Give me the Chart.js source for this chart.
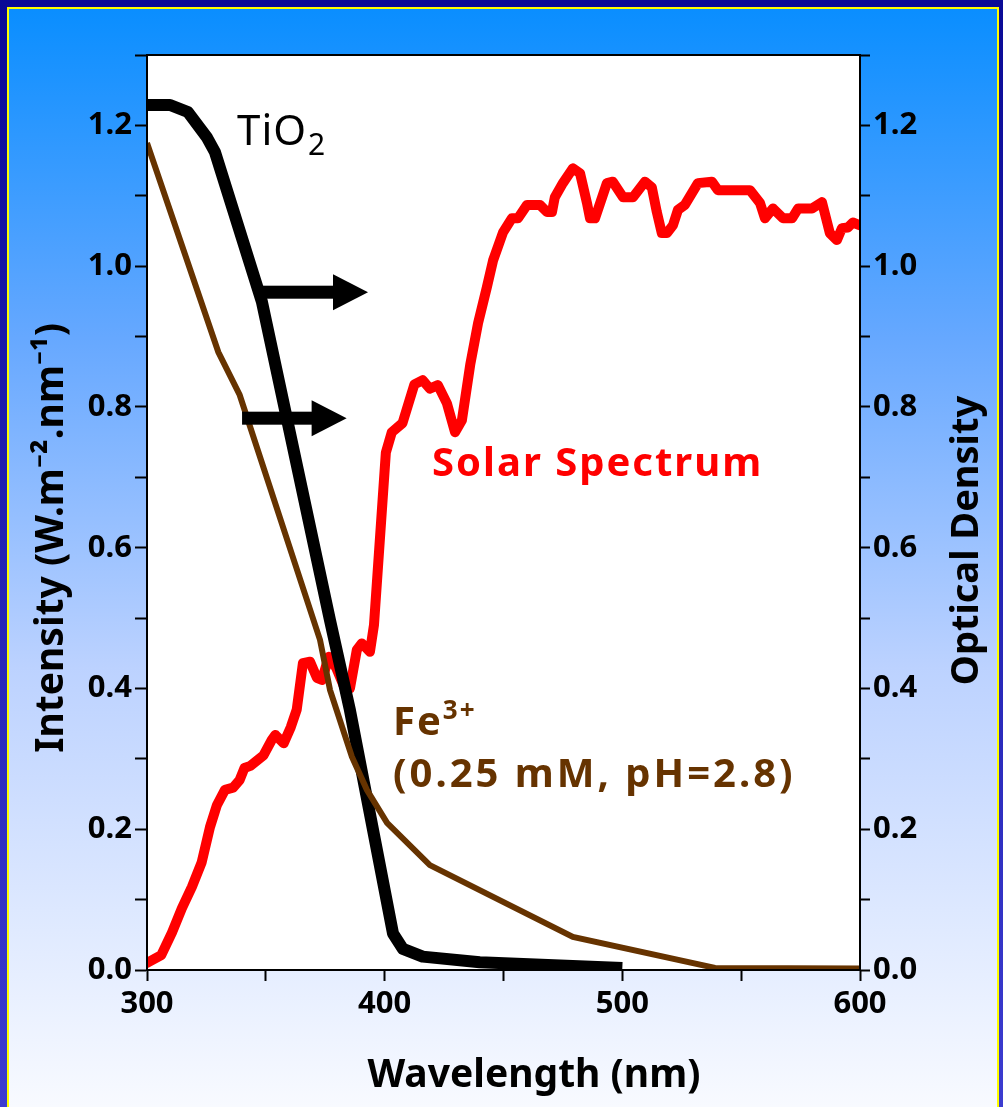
<!DOCTYPE html>
<html>
<head>
<meta charset="utf-8">
<script src="https://cdn.jsdelivr.net/npm/chart.js@4.4.1/dist/chart.umd.min.js"></script>
<style>
	html, body { margin: 0; padding: 0; background: #0c0c9c; }
	#wrap { width: 1003px; height: 1107px; }
</style>
</head>
<body>
<div id="wrap"><canvas id="chart_solar"></canvas></div>
<script>
'use strict';

// solar spectrum (left axis)
const solarNm = [300, 306, 310.5, 314.7, 318.9, 323, 326.5, 329.4, 332.8, 336.2, 339, 341, 343.5, 349, 352.5, 354, 357.5, 360.5, 363, 365.6, 368.6, 371.5, 373.6, 376.5, 379.5, 383.5, 385.4, 388.3, 390.4, 393.8, 395.5, 400.5, 403, 407.5, 412.5, 416, 419, 422.4, 426.2, 429.6, 432.5, 436, 439.3, 443, 445.6, 449.8, 453.5, 456.1, 459.9, 465.3, 468.3, 470.4, 471.6, 475, 479.2, 482.2, 485.1, 486.4, 488.5, 493.5, 496, 500.3, 504.5, 509.5, 512.4, 514.5, 516.6, 518.8, 521.3, 523.4, 526.3, 531.8, 537.7, 540.2, 553.7, 557.9, 560, 563.4, 567.6, 571.4, 574, 579.8, 584, 587.3, 590.3, 592.4, 594.9, 597, 600];
const solarIntensity = [0.01, 0.021, 0.053, 0.088, 0.118, 0.153, 0.203, 0.234, 0.256, 0.259, 0.27, 0.287, 0.29, 0.305, 0.327, 0.334, 0.322, 0.345, 0.37, 0.436, 0.438, 0.415, 0.412, 0.445, 0.43, 0.398, 0.40, 0.455, 0.464, 0.452, 0.49, 0.735, 0.764, 0.777, 0.832, 0.838, 0.826, 0.831, 0.805, 0.764, 0.781, 0.86, 0.919, 0.97, 1.008, 1.048, 1.068, 1.068, 1.087, 1.087, 1.077, 1.077, 1.098, 1.118, 1.139, 1.132, 1.09, 1.068, 1.068, 1.118, 1.12, 1.098, 1.098, 1.12, 1.112, 1.077, 1.047, 1.047, 1.058, 1.08, 1.087, 1.118, 1.12, 1.108, 1.108, 1.09, 1.068, 1.082, 1.068, 1.068, 1.082, 1.082, 1.091, 1.047, 1.037, 1.054, 1.055, 1.062, 1.058];

// TiO2 optical density (right axis)
const tio2Nm = [300, 309.7, 317.2, 325.2, 328.6, 348.3, 377, 385.4, 403.5, 407.7, 416, 440, 500];
const tio2OD = [1.229, 1.229, 1.219, 1.183, 1.162, 0.95, 0.497, 0.369, 0.052, 0.03, 0.019, 0.011, 0.003];

// Fe3+ optical density (right axis)
const feNm = [300, 330, 339, 372.8, 377, 386.2, 392.5, 401, 419, 479.2, 539, 600];
const feOD = [1.175, 0.878, 0.817, 0.469, 0.398, 0.303, 0.256, 0.209, 0.149, 0.047, 0.003, 0.002];

const xTickLabels = [300, 400, 500, 600];
const yTickLabels = [0, 0.2, 0.4, 0.6, 0.8, 1.0, 1.2];

const FONT = '"Noto Sans", "DejaVu Sans", sans-serif';
const BROWN = '#663300';

function toPoints(xs, ys) {
	return xs.map((x, i) => ({x: x, y: ys[i]}));
}

function yLabel(v) {
	let r = Math.round(v * 10) / 10;
	return yTickLabels.some(t => Math.abs(t - r) < 1e-6) ? r.toFixed(1) : '';
}

const bgPlugin = {
	id: 'bg',
	beforeDraw(chart) {
		let ctx = chart.ctx, w = chart.width, h = chart.height;
		ctx.save();
		let outer = ctx.createLinearGradient(0, 0, 0, h);
		outer.addColorStop(0, '#0a0a96');
		outer.addColorStop(1, '#3c3cd0');
		ctx.fillStyle = outer;
		ctx.fillRect(0, 0, w, h);
		ctx.fillStyle = '#ffff00';
		ctx.fillRect(7, 7, w - 11, h);
		let inner = ctx.createLinearGradient(0, 9, 0, h);
		inner.addColorStop(0, '#0a8eff');
		inner.addColorStop(0.3, '#66a8ff');
		inner.addColorStop(0.6, '#bcd2ff');
		inner.addColorStop(1, '#f8faff');
		ctx.fillStyle = inner;
		ctx.fillRect(9, 9, w - 15, h);
		let a = chart.chartArea;
		ctx.fillStyle = '#ffffff';
		ctx.fillRect(a.left, a.top, a.right - a.left, a.bottom - a.top);
		ctx.restore();
	},
	afterDraw(chart) {
		// right axis title reads bottom to top, like the left one
		let ctx = chart.ctx, a = chart.chartArea;
		ctx.save();
		ctx.translate(chart.width - 36, (a.top + a.bottom) / 2 + 28);
		ctx.rotate(-Math.PI / 2);
		ctx.fillStyle = '#000';
		ctx.font = 'bold 38px ' + FONT;
		ctx.textAlign = 'center';
		ctx.textBaseline = 'middle';
		ctx.fillText('Optical Density', 0, 0);
		ctx.restore();
	},
	afterDatasetsDraw(chart) {
		let ctx = chart.ctx, a = chart.chartArea;
		let xs = chart.scales.x, ys = chart.scales.y1;
		ctx.save();
		ctx.strokeStyle = '#000';
		ctx.lineWidth = 2;
		ctx.strokeRect(a.left, a.top, a.right - a.left, a.bottom - a.top);

		// arrows pointing to the optical density axis
		drawArrow(ctx, xs.getPixelForValue(348.4), xs.getPixelForValue(393), ys.getPixelForValue(0.963));
		drawArrow(ctx, xs.getPixelForValue(340), xs.getPixelForValue(384), ys.getPixelForValue(0.784));

		ctx.textBaseline = 'alphabetic';
		ctx.textAlign = 'left';

		// TiO2
		let tx = xs.getPixelForValue(337.9), ty = ys.getPixelForValue(1.172);
		ctx.fillStyle = '#000';
		ctx.font = '42px ' + FONT;
		ctx.letterSpacing = '1px';
		ctx.fillText('TiO', tx, ty);
		let tw = ctx.measureText('TiO').width;
		ctx.font = '30px ' + FONT;
		ctx.fillText('2', tx + tw + 1, ty + 10);

		// Solar Spectrum
		ctx.fillStyle = '#ff0000';
		ctx.font = 'bold 40px ' + FONT;
		ctx.letterSpacing = '2px';
		ctx.fillText('Solar Spectrum', xs.getPixelForValue(419.9), ys.getPixelForValue(0.702));

		// Fe3+
		let fx = xs.getPixelForValue(403.5), fy = ys.getPixelForValue(0.334);
		ctx.fillStyle = BROWN;
		ctx.font = 'bold 40px ' + FONT;
		ctx.fillText('Fe', fx, fy);
		let fw = ctx.measureText('Fe').width;
		ctx.font = 'bold 26px ' + FONT;
		ctx.fillText('3+', fx + fw, fy - 16);
		ctx.font = 'bold 40px ' + FONT;
		ctx.letterSpacing = '3px';
		ctx.fillText('(0.25 mM, pH=2.8)', fx, ys.getPixelForValue(0.26));
		ctx.restore();
	},
};

function drawArrow(ctx, x0, x1, y) {
	let head = 35, half = 18;
	ctx.fillStyle = '#000';
	ctx.fillRect(x0, y - 6.5, x1 - x0 - head + 1, 13);
	ctx.beginPath();
	ctx.moveTo(x1 - head, y - half);
	ctx.lineTo(x1, y);
	ctx.lineTo(x1 - head, y + half);
	ctx.closePath();
	ctx.fill();
}

const tickFont = {family: FONT, size: 31, weight: 'bold'};

const config = {
	type: 'line',
	data: {
		datasets: [{
			label: 'Fe3+',
			data: toPoints(feNm, feOD),
			yAxisID: 'y1',
			borderColor: BROWN,
			borderWidth: 6,
			pointRadius: 0,
			order: 0,
		}, {
			label: 'TiO2',
			data: toPoints(tio2Nm, tio2OD),
			yAxisID: 'y1',
			borderColor: '#000000',
			borderWidth: 12,
			borderJoinStyle: 'round',
			pointRadius: 0,
			order: 1,
		}, {
			label: 'Solar Spectrum',
			data: toPoints(solarNm, solarIntensity),
			yAxisID: 'y',
			borderColor: '#ff0000',
			borderWidth: 10,
			borderJoinStyle: 'round',
			borderCapStyle: 'round',
			pointRadius: 0,
			order: 2,
		}],
	},
	options: {
		responsive: true,
		maintainAspectRatio: false,
		animation: false,
		devicePixelRatio: 1,
		layout: {padding: {top: 55, left: 0, right: 0, bottom: 0}},
		plugins: {
			legend: {display: false},
			tooltip: {enabled: false},
		},
		scales: {
			x: {
				type: 'linear',
				min: 300,
				max: 600,
				afterBuildTicks: s => { s.ticks = [300, 350, 400, 450, 500, 550, 600].map(v => ({value: v})); },
				afterFit: s => { s.height = 137; },
				ticks: {
					color: '#000',
					font: tickFont,
					padding: 5,
					maxRotation: 0,
					callback: v => xTickLabels.includes(v) ? String(v) : '',
				},
				grid: {drawOnChartArea: false, drawTicks: true, tickLength: 11, tickWidth: 2, tickColor: '#000'},
				border: {display: true, color: '#000', width: 2},
				title: {display: true, text: '      Wavelength (nm)', color: '#000', font: {family: FONT, size: 39, weight: 'bold'}, padding: {top: 0, bottom: 8}},
			},
			y: {
				position: 'left',
				min: 0,
				max: 1.3,
				afterBuildTicks: s => { s.ticks = Array.from({length: 14}, (d, i) => ({value: i / 10})); },
				afterFit: s => { s.width = 147; },
				ticks: {color: '#000', font: tickFont, padding: 3, callback: yLabel},
				grid: {drawOnChartArea: false, drawTicks: true, tickLength: 12, tickWidth: 2, tickColor: '#000'},
				border: {display: true, color: '#000', width: 2},
				title: {display: true, text: 'Intensity (W.m\u207B\u00B2.nm\u207B\u00B9)     ', color: '#000', font: {family: FONT, size: 39, weight: 'bold'}, padding: {top: 28, bottom: 0}},
			},
			y1: {
				position: 'right',
				min: 0,
				max: 1.3,
				afterBuildTicks: s => { s.ticks = Array.from({length: 14}, (d, i) => ({value: i / 10})); },
				afterFit: s => { s.width = 143; },
				ticks: {color: '#000', font: tickFont, padding: 3, callback: yLabel},
				grid: {drawOnChartArea: false, drawTicks: true, tickLength: 10, tickWidth: 2, tickColor: '#000'},
				border: {display: true, color: '#000', width: 2},
			},
		},
	},
	plugins: [bgPlugin],
};

window.ChartSolar = new Chart(document.getElementById('chart_solar').getContext('2d'), config);
</script>
</body>
</html>
